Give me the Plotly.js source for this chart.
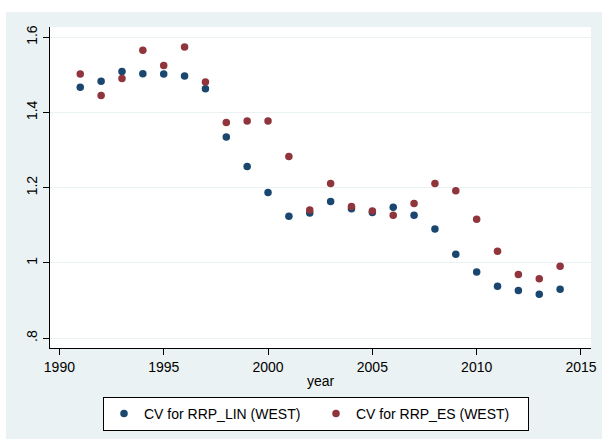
<!DOCTYPE html>
<html>
<head>
<meta charset="utf-8">
<script src="https://cdn.plot.ly/plotly-3.0.1.min.js"></script>
<style>html,body{margin:0;padding:0;background:#fff;}#chart{width:602px;height:439px;}</style>
</head>
<body>
<div id="chart"></div>
<script>
var years = [1991,1992,1993,1994,1995,1996,1997,1998,1999,2000,2001,2002,2003,2004,2005,2006,2007,2008,2009,2010,2011,2012,2013,2014];
var cvLin = [1.467,1.483,1.509,1.503,1.502,1.497,1.463,1.335,1.256,1.187,1.124,1.133,1.163,1.144,1.134,1.148,1.127,1.090,1.023,0.976,0.938,0.927,0.917,0.930];
var cvEs  = [1.502,1.445,1.490,1.565,1.525,1.574,1.481,1.373,1.377,1.377,1.283,1.141,1.211,1.150,1.138,1.127,1.158,1.211,1.192,1.116,1.031,0.969,0.958,0.991];
var seriesNames = ['CV for RRP_LIN (WEST)', 'CV for RRP_ES (WEST)'];
var yTickVals = [0.8, 1, 1.2, 1.4, 1.6];
var yTickText = ['.8', '1', '1.2', '1.4', '1.6'];
var xTickVals = [1990, 1995, 2000, 2005, 2010, 2015];

var FONT = 'Liberation Sans, Arial, sans-serif';
var traces = [
  {x: years, y: cvLin, name: seriesNames[0], type: 'scatter', mode: 'markers',
   marker: {color: '#1a476f', size: 7.5}},
  {x: years, y: cvEs, name: seriesNames[1], type: 'scatter', mode: 'markers',
   marker: {color: '#90353b', size: 7.5}}
];
var W = 541, H = 321, L = 50, T = 27;
var layout = {
  width: 602, height: 439,
  margin: {l: L, r: 11, t: T, b: 91, pad: 0, autoexpand: false},
  paper_bgcolor: '#eaf2f3',
  plot_bgcolor: '#ffffff',
  font: {family: FONT, size: 14, color: '#000'},
  showlegend: true,
  xaxis: {
    range: [1989.55, 2015.48],
    tickvals: xTickVals,
    ticks: 'outside', ticklen: 6, tickcolor: '#000', tickwidth: 1,
    showline: true, linecolor: '#000', linewidth: 1,
    showgrid: false, zeroline: false,
    tickfont: {size: 14},
    title: {text: 'year', font: {size: 14}, standoff: 2}
  },
  yaxis: {
    range: [0.774, 1.627],
    tickvals: yTickVals, ticktext: yTickText,
    tickangle: -90,
    ticks: 'outside', ticklen: 6, tickcolor: '#000', tickwidth: 1,
    showline: true, linecolor: '#000', linewidth: 1,
    showgrid: true, gridcolor: '#eaf2f3', gridwidth: 1,
    zeroline: false,
    tickfont: {size: 14}
  },
  legend: {
    orientation: 'h',
    x: (103 - L) / W, xanchor: 'left',
    y: 1 - (397 - T) / H, yanchor: 'top',
    bgcolor: '#ffffff', bordercolor: '#000', borderwidth: 1,
    font: {size: 14},
    entrywidth: 167, entrywidthmode: 'pixels',
    itemwidth: 30
  },
  shapes: [
    {type: 'rect', xref: 'paper', yref: 'paper', x0: -L / W - 0.01, x1: (6 - L) / W, y0: -1, y1: 2,
     fillcolor: '#ffffff', line: {width: 0}, layer: 'above'},
    {type: 'rect', xref: 'paper', yref: 'paper', x0: -1, x1: 2, y0: 1 + (T - 12) / H, y1: 1 + T / H + 0.01,
     fillcolor: '#ffffff', line: {width: 0}, layer: 'above'}
  ]
};
Plotly.newPlot('chart', traces, layout, {displayModeBar: false, staticPlot: true});
</script>
</body>
</html>
